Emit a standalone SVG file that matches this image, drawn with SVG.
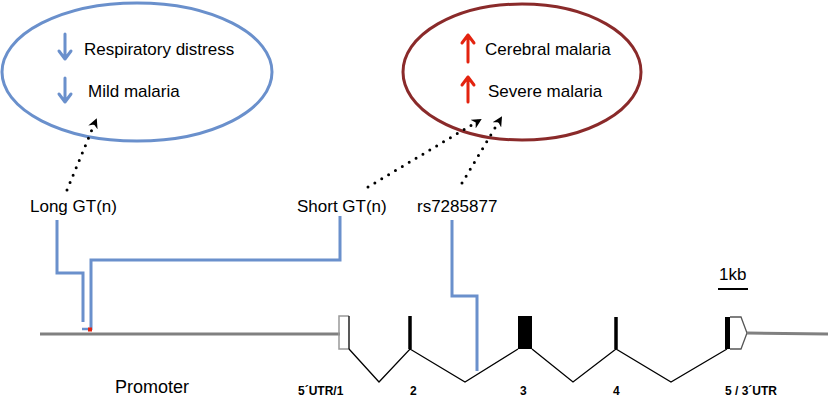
<svg xmlns="http://www.w3.org/2000/svg" width="829" height="401" viewBox="0 0 829 401">
<style>
text{font-family:"Liberation Sans",Arial,sans-serif;fill:#000}
.lbl{font-size:17px}
.b{font-size:12px;font-weight:bold}
.blue{fill:none;stroke:#6a90cc;stroke-width:3}
.dot{fill:none;stroke:#000;stroke-width:3;stroke-linecap:round;stroke-dasharray:0 8}
.gene{fill:none;stroke:#000;stroke-width:1.3}
.ba{fill:none;stroke:#6a90cc;stroke-width:3;stroke-linecap:round;stroke-linejoin:round}
.ra{fill:none;stroke:#e3230f;stroke-width:3;stroke-linecap:round;stroke-linejoin:round}
</style>
<defs>
<marker id="ah" viewBox="0 0 10 10" refX="8" refY="5" markerWidth="10" markerHeight="10" markerUnits="userSpaceOnUse" orient="auto">
<path d="M0,0 L10,5 L0,10 L3,5 Z" fill="#000"/>
</marker>
</defs>
<g id="ellipse-left">
<ellipse cx="137" cy="72" rx="135" ry="69" fill="none" stroke="#6a90cc" stroke-width="3"/>
<path class="ba" d="M65,34 V59 M59,51 L65,59 L71,51"/>
<text class="lbl" x="84" y="55">Respiratory distress</text>
<path class="ba" d="M65,78 V102 M59,94 L65,102 L71,94"/>
<text class="lbl" x="88" y="97">Mild malaria</text>
</g>
<g id="ellipse-right">
<ellipse cx="522" cy="72" rx="119" ry="68" fill="none" stroke="#8a2a2a" stroke-width="3"/>
<path class="ra" d="M468,62 V35 M462,43 L468,35 L474,43"/>
<text class="lbl" x="485" y="55">Cerebral malaria</text>
<path class="ra" d="M468,102 V77 M462,85 L468,77 L474,85"/>
<text class="lbl" x="488" y="97">Severe malaria</text>
</g>
<g id="connectors">
<line class="dot" x1="67" y1="190" x2="96" y2="120" marker-end="url(#ah)"/>
<line class="dot" x1="368" y1="187" x2="480" y2="120" marker-end="url(#ah)"/>
<line class="dot" x1="462" y1="183" x2="501" y2="118" marker-end="url(#ah)"/>
<path class="blue" d="M57,220 V273 H83 V322"/>
<path class="blue" d="M340,216 V260 H91 V330"/>
<path class="blue" d="M452,220 V296 H477 V371"/>
</g>
<g id="labels">
<text class="lbl" x="30" y="212">Long GT(n)</text>
<text class="lbl" x="297" y="212">Short GT(n)</text>
<text class="lbl" x="417" y="212">rs7285877</text>
</g>
<g id="gene">
<line x1="40" y1="334" x2="340" y2="334" stroke="#808080" stroke-width="3"/>
<line x1="82" y1="329" x2="89" y2="329" stroke="#6a90cc" stroke-width="2.5"/>
<rect x="88" y="327.5" width="4" height="4" fill="#e3230f"/>
<path d="M349,316 H339 V349 H349" fill="none" stroke="#999" stroke-width="1.5"/>
<path d="M349,316 V349" fill="none" stroke="#222" stroke-width="1.5"/>
<path class="gene" d="M349,349 L379,382 L410,349 L465,382 L518,349"/>
<path class="gene" d="M532,349 L573,382 L616,349 L671,382 L727,349"/>
<line x1="410" y1="316" x2="410" y2="349" stroke="#000" stroke-width="3.5"/>
<rect x="518" y="316" width="14" height="33" fill="#000"/>
<line x1="616" y1="317" x2="616" y2="349" stroke="#000" stroke-width="3.5"/>
<rect x="725" y="317" width="5" height="32" fill="#000"/>
<path d="M730,317 H741 L747,333 L741,349 H730" fill="none" stroke="#555" stroke-width="1.3"/>
<line x1="747" y1="333" x2="828" y2="334" stroke="#808080" stroke-width="3"/>
</g>
<g id="scale">
<text class="lbl" x="719" y="280">1kb</text>
<line x1="718" y1="289" x2="748" y2="289" stroke="#000" stroke-width="2"/>
</g>
<g id="bottom-labels">
<text class="lbl" x="115" y="393" style="font-size:18px">Promoter</text>
<text class="b" x="298" y="395">5´UTR/1</text>
<text class="b" x="410" y="395">2</text>
<text class="b" x="520" y="395">3</text>
<text class="b" x="613" y="395">4</text>
<text class="b" x="725" y="395">5 / 3´UTR</text>
</g>
</svg>
